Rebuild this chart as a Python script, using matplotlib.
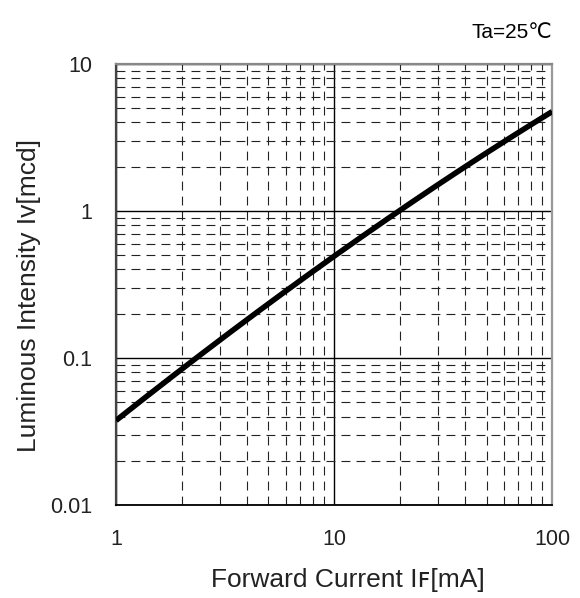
import matplotlib
matplotlib.use("Agg")
import matplotlib.pyplot as plt
import numpy as np
from matplotlib.ticker import FixedLocator, NullFormatter

current_mA = [1, 2, 3, 5, 10, 20, 30, 50, 100]
intensity_mcd = [0.038, 0.082, 0.13, 0.245, 0.49, 1.0, 1.5, 2.5, 4.75]
x_ticks = [1, 10, 100]
x_ticklabels = ["1", "10", "100"]
y_ticks = [0.01, 0.1, 1, 10]
y_ticklabels = ["0.01", "0.1", "1", "10"]

plt.rcParams['font.family'] = ['Liberation Sans', 'DejaVu Sans']

fig = plt.figure(figsize=(5.8, 5.98), dpi=100)
ax = fig.add_axes([0.2, 0.1555, 0.752, 0.7375])
ax.set_xscale('log')
ax.set_yscale('log')
ax.set_xlim(1, 100)
ax.set_ylim(0.01, 10)

# smooth curve in log space through read points
lx = np.log10(current_mA)
ly = np.log10(intensity_mcd)
xs = np.linspace(lx[0], lx[-1], 200)
coef = np.polyfit(lx, ly, 3)
ys = np.polyval(coef, xs)
ax.plot(10**xs, 10**ys, color='black', lw=4.0, solid_capstyle='butt', zorder=5)

ax.set_xticks(x_ticks)
ax.set_xticklabels(x_ticklabels)
ax.set_yticks(y_ticks)
ax.set_yticklabels(y_ticklabels)
minor_x = [m * d for d in (1, 10) for m in range(2, 10)]
minor_y = [m * d for d in (0.01, 0.1, 1) for m in range(2, 10)]
ax.xaxis.set_minor_locator(FixedLocator(minor_x))
ax.yaxis.set_minor_locator(FixedLocator(minor_y))
ax.xaxis.set_minor_formatter(NullFormatter())
ax.yaxis.set_minor_formatter(NullFormatter())

ax.grid(which='major', color='black', lw=1.0, linestyle='-')
ax.grid(which='minor', color='#222222', lw=0.8, linestyle=(0, (8, 5.5)))
ax.set_axisbelow(True)

ax.tick_params(which='both', length=0)
ax.tick_params(axis='x', pad=17, labelsize=15.5, labelcolor='#222222')
ax.tick_params(axis='y', pad=17, labelsize=15.5, labelcolor='#222222')

ax.spines['left'].set_color('#444444')
ax.spines['left'].set_linewidth(1.6)
ax.spines['bottom'].set_color('black')
ax.spines['bottom'].set_linewidth(1.3)
ax.spines['top'].set_color('#888888')
ax.spines['top'].set_linewidth(1.6)
ax.spines['right'].set_color('#999999')
ax.spines['right'].set_linewidth(1.6)

ax.set_xlabel("Forward Current I\uA730[mA]", fontsize=19, color='#222222', va='center')
ax.set_ylabel("Luminous Intensity I\u1D20[mcd]", fontsize=19, color='#222222', va='center')
ax.xaxis.set_label_coords(0.532, -0.170)
ax.yaxis.set_label_coords(-0.200, 0.476)

fig.text(0.953, 0.945, "Ta=25℃", ha='right', va='center', fontsize=15)

fig.savefig("out.png", dpi=100)
